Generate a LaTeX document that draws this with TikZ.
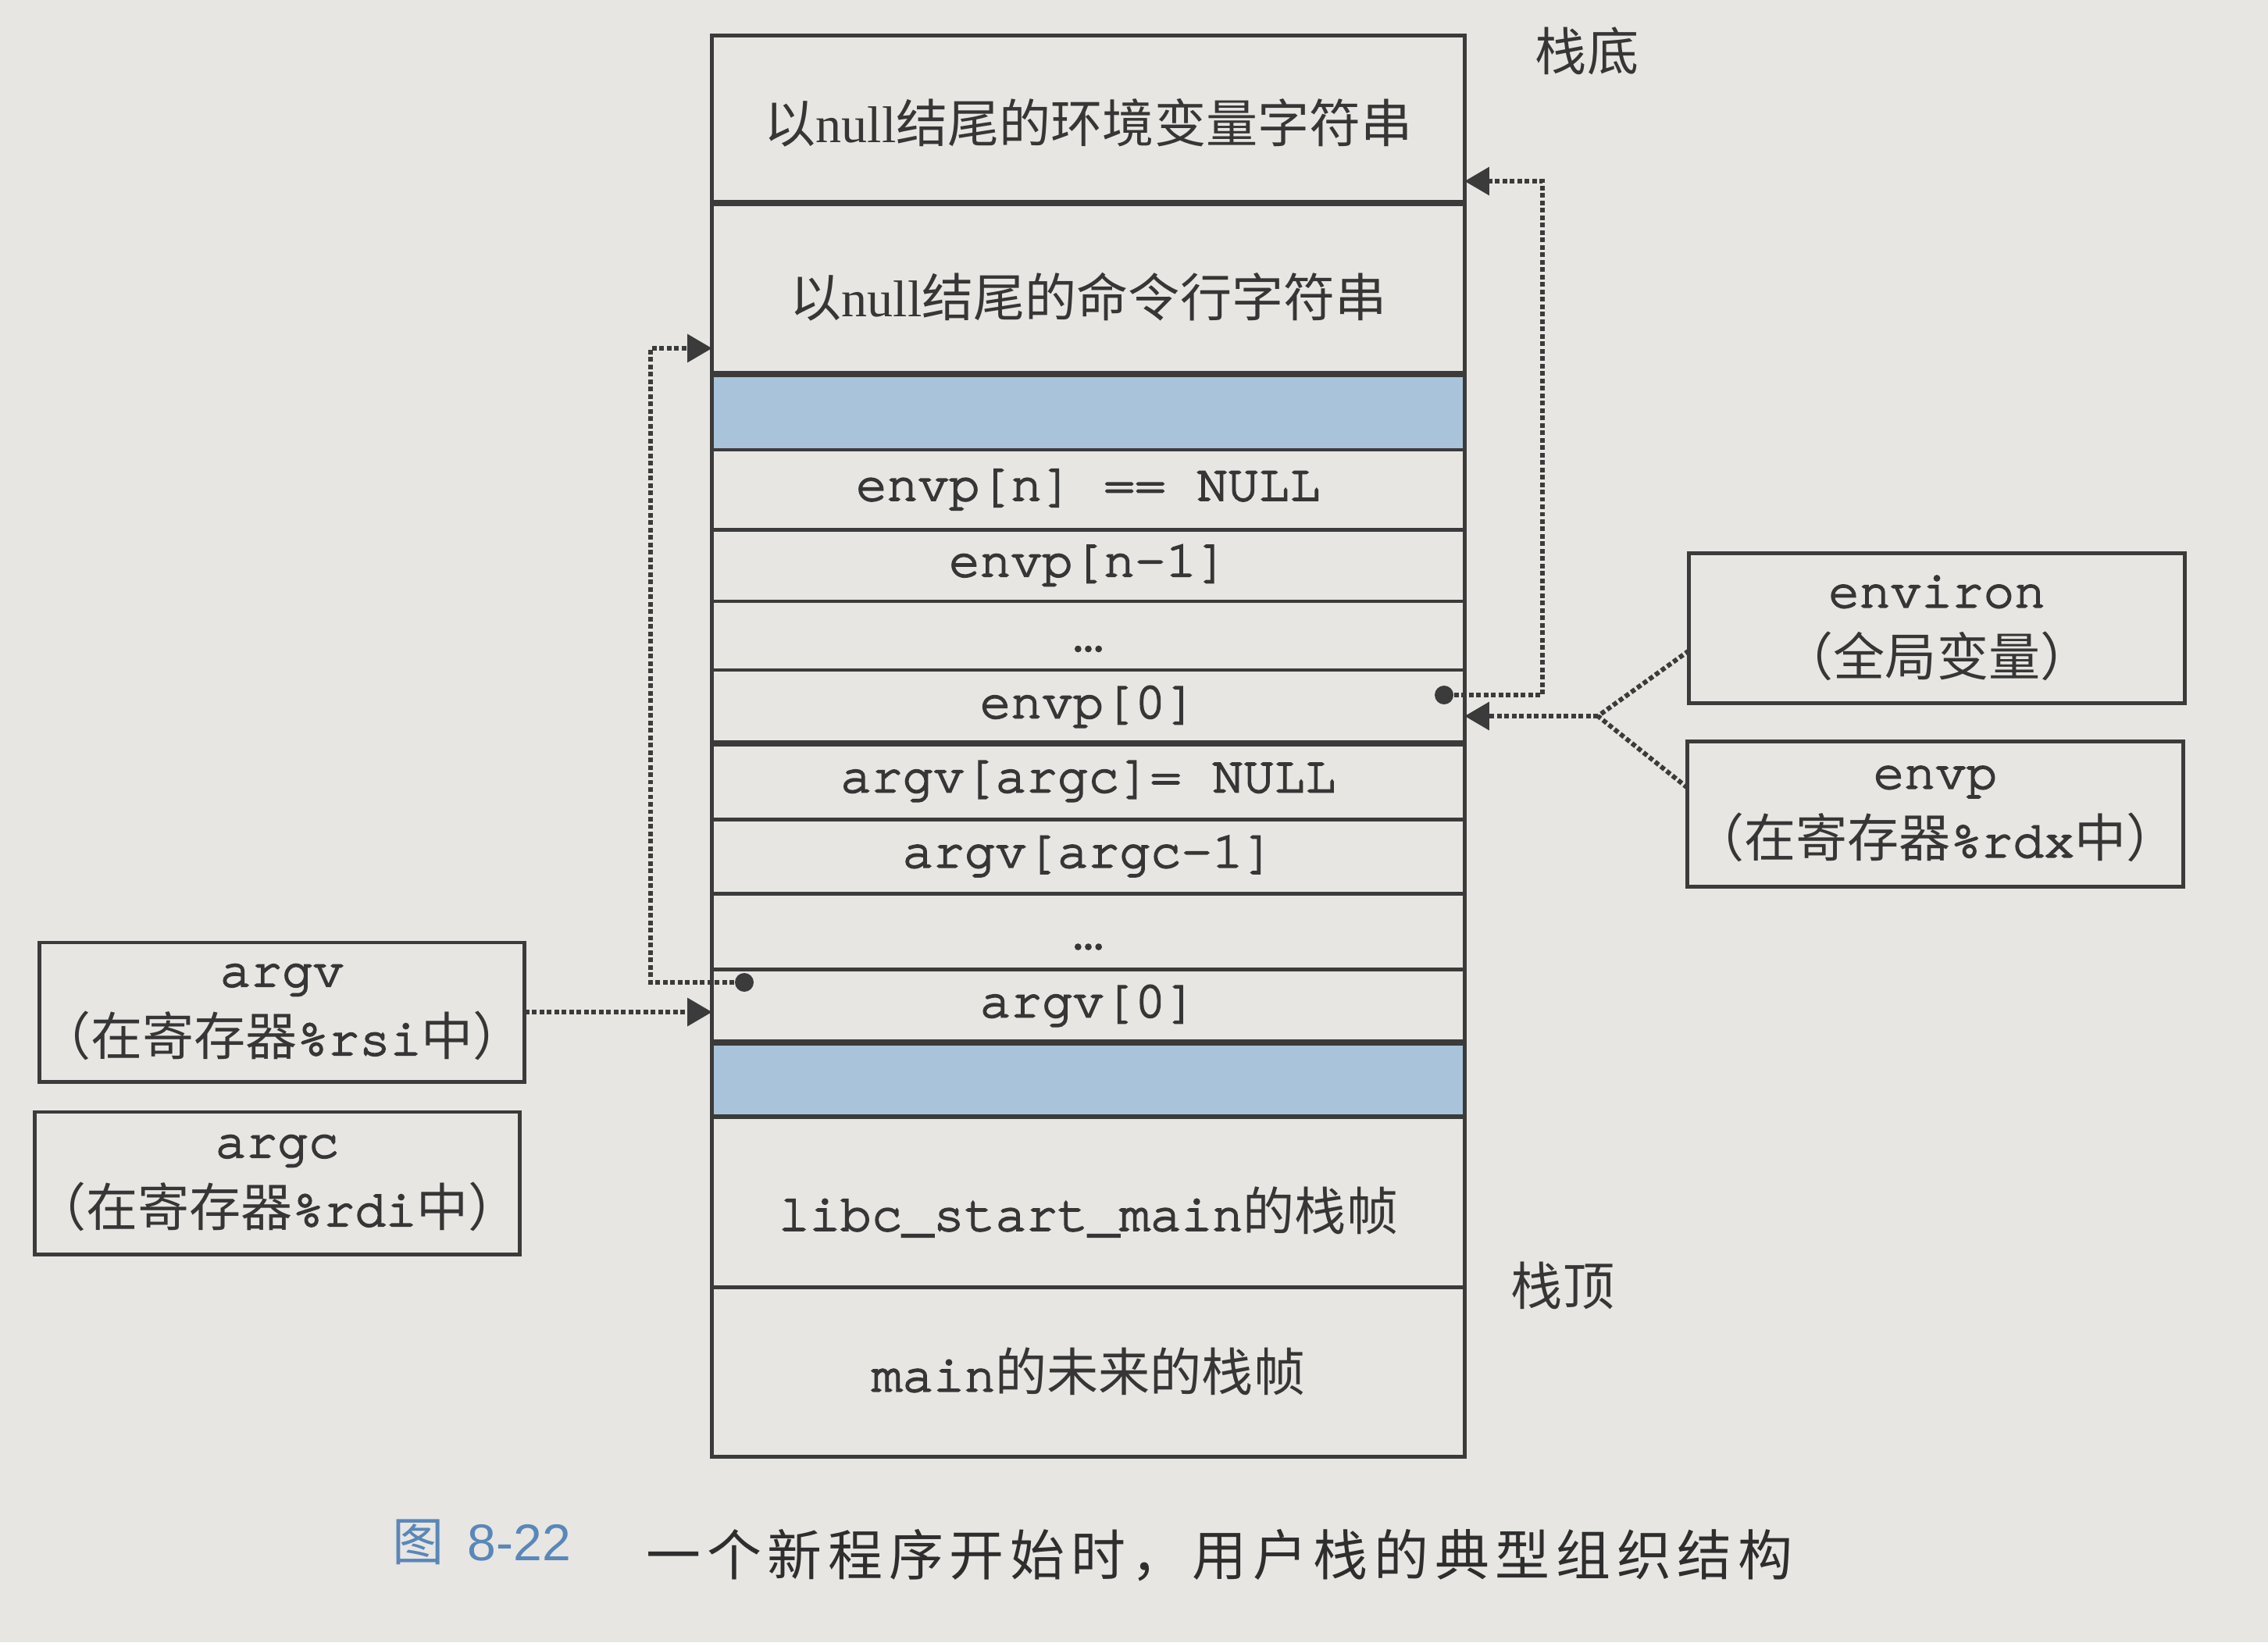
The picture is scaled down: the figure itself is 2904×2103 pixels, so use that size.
\documentclass[tikz,border=0pt]{standalone}
\usepackage{fontspec}
\setmainfont{Liberation Serif}
\setmonofont{TeX Gyre Cursor}[FakeBold=3]
\newfontfamily\cjk{Noto Sans CJK SC}
\newfontfamily\capcjk{Noto Sans CJK SC}[LetterSpace=11]
\newfontfamily\capsans{Liberation Sans}
\usetikzlibrary{arrows.meta,calc}

\definecolor{paper}{HTML}{E7E6E2}
\definecolor{ink}{HTML}{3B3B3B}
\definecolor{txt}{HTML}{363636}
\definecolor{captxt}{HTML}{2E2E2E}
\definecolor{bandblue}{HTML}{A9C4DA}
\definecolor{capblue}{HTML}{5A87B8}

\newcommand{\zh}[1]{{\cjk #1}}
% move text down without changing the box that the node centres
\newcommand{\dropby}[2]{\raisebox{-#1}[\height][\depth]{#2}}

\begin{document}
\begin{tikzpicture}[x=0.01cm, y=-0.01cm,
  row/.style={draw=ink, line width=1.4pt, minimum width=9.63cm,
    inner sep=0pt, outer sep=0pt, text=txt,
    font={\fontsize{18.8pt}{25pt}\selectfont\ttfamily}},
  band/.style={row, fill=bandblue},
  sep/.style={draw=ink, line width=2.4pt},
  side/.style={draw=ink, line width=1.4pt, align=center, inner sep=0pt,
    outer sep=0pt, text=txt,
    font={\fontsize{18.8pt}{25pt}\selectfont\ttfamily}},
  lbl/.style={text=txt, font={\fontsize{18.8pt}{25pt}\selectfont\cjk}},
  lnk/.style={draw=ink, line width=1.7pt, dash pattern=on 1.7pt off 1.0pt},
  ptr/.style={lnk, -{Triangle[length=9pt,width=10pt]}},
  pin/.style={circle, fill=ink, inner sep=0pt, minimum size=0.24cm},
]
\fill[paper] (0,0) rectangle (2904,2103);
\useasboundingbox (0,0) rectangle (2904,2103);

% the user stack, bottom of stack at the top
\node[row, minimum height=2.14cm] (r1) at (1393.5,153)
  {\dropby{0.04cm}{\zh{以}{\rmfamily null}\zh{结尾的环境变量字符串}}};
\node[row, minimum height=2.19cm] (r2) at (1393.5,369.5)
  {\dropby{0.11cm}{\zh{以}{\rmfamily null}\zh{结尾的命令行字符串}}};
\node[band, minimum height=0.97cm] (r3) at (1393.5,527.5) {};
\node[row, minimum height=1.02cm] (r4) at (1393.5,627) {envp[n] == NULL};
\node[row, minimum height=0.92cm] (r5) at (1393.5,724) {envp[n-1]};
\node[row, minimum height=0.88cm] (r6) at (1393.5,814) {\dropby{0.17cm}{…}};
\node[row, minimum height=0.94cm] (r7) at (1393.5,905) {envp[0]};
\node[row, minimum height=0.97cm] (r8) at (1393.5,1000.5) {argv[argc]= NULL};
\node[row, minimum height=0.95cm] (r9) at (1393.5,1096.5) {argv[argc-1]};
\node[row, minimum height=0.97cm] (r10) at (1393.5,1192.5) {\dropby{0.2cm}{…}};
\node[row, minimum height=0.94cm] (r11) at (1393.5,1288) {argv[0]};
\node[band, minimum height=0.95cm] (r12) at (1393.5,1382.5) {};
\node[row, minimum height=2.18cm] (r13) at (1393.5,1539)
  {\dropby{0.13cm}{libc\_start\_main\zh{的栈帧}}};
\node[row, minimum height=2.17cm] (r14) at (1393.5,1756.5)
  {main\zh{的未来的栈帧}};

% heavier rules between the groups of the stack
\foreach \a in {r1,r2,r7,r11}
  \draw[sep] (\a.south west) -- (\a.south east);

\node[lbl] (stackbottom) at (2032,65) {栈底};
\node[lbl] (stacktop) at (2001,1646) {栈顶};

% registers and globals
\node[side, minimum width=6.34cm, minimum height=1.91cm] (environ) at (2480,804.5)
  {environ\\\zh{（全局变量）}};
\node[side, minimum width=6.34cm, minimum height=1.85cm] (envpreg) at (2478,1042.5)
  {envp\\\zh{（在寄存器}\%rdx\zh{中）}};
\node[side, minimum width=6.18cm, minimum height=1.78cm] (argvreg) at (361,1296)
  {argv\\\zh{（在寄存器}\%rsi\zh{中）}};
\node[side, minimum width=6.18cm, minimum height=1.82cm] (argcreg) at (355,1515)
  {argc\\\zh{（在寄存器}\%rdi\zh{中）}};

% pointers
\node[pin] (penv) at (1849,890) {};
\node[pin] (parg) at (953,1258) {};
\coordinate (envbend) at (1975,232);
\coordinate (argbend) at (833,446);
\draw[ptr] (penv) -| (envbend) -- (r1.east |- envbend);
\draw[ptr] (parg) -| (argbend) -- (r2.west |- argbend);

\coordinate (jn) at (2046,917);
\draw[lnk] ($(environ.south west)+(0,-67)$) -- (jn);
\draw[lnk] ($(envpreg.north west)+(0,59)$) -- (jn);
\draw[ptr] (jn) -- (r7.east |- jn);

\draw[ptr] (argvreg.east) -- (r11.west |- argvreg.east);

% caption
\node[text=capblue, font={\fontsize{18.8pt}{24pt}\selectfont}] (fignum) at (617,1975)
  {\zh{图}\hspace{0.3cm}{\capsans 8-22}};
\node[anchor=west, text=captxt, font={\fontsize{19.9pt}{24pt}\selectfont\capcjk}] (caption)
  at (815,1992) {一个新程序开始时，用户栈的典型组织结构};
\end{tikzpicture}
\end{document}
